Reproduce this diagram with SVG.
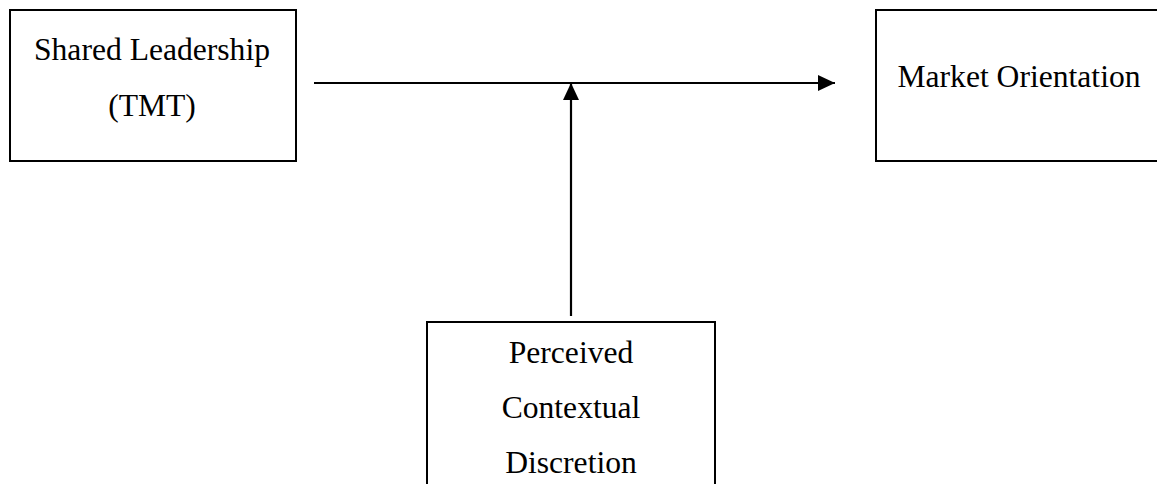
<svg xmlns="http://www.w3.org/2000/svg" width="1157" height="484" viewBox="0 0 1157 484">
<style>
.box{fill:#fff;stroke:#000;stroke-width:2}
.t{font-family:"Liberation Serif","Times New Roman",serif;font-size:31.6px;fill:#000;text-anchor:middle}
.c{stroke:#000;stroke-width:2.2;fill:none}
</style>
<defs>
<marker id="ah" markerUnits="userSpaceOnUse" markerWidth="18" markerHeight="16" refX="17" refY="8" orient="auto">
<path d="M0,0 L17,8 L0,16 Z" fill="#000"/>
</marker>
</defs>
<rect width="1157" height="484" fill="#fff"/>
<g id="shared-leadership">
<rect class="box" x="10" y="10" width="286" height="151"/>
<text class="t" x="152" y="60">Shared Leadership</text>
<text class="t" x="152" y="116">(TMT)</text>
</g>
<g id="market-orientation">
<rect class="box" x="876" y="10" width="300" height="151"/>
<text class="t" x="1019" y="87">Market Orientation</text>
</g>
<g id="perceived-discretion">
<rect class="box" x="427" y="322" width="288" height="180"/>
<text class="t" x="571" y="363">Perceived</text>
<text class="t" x="571" y="418">Contextual</text>
<text class="t" x="571" y="473">Discretion</text>
</g>
<g id="connectors">
<line class="c" x1="314" y1="83" x2="835" y2="83" marker-end="url(#ah)"/>
<line class="c" x1="571" y1="316" x2="571" y2="83" marker-end="url(#ah)"/>
</g>
</svg>
